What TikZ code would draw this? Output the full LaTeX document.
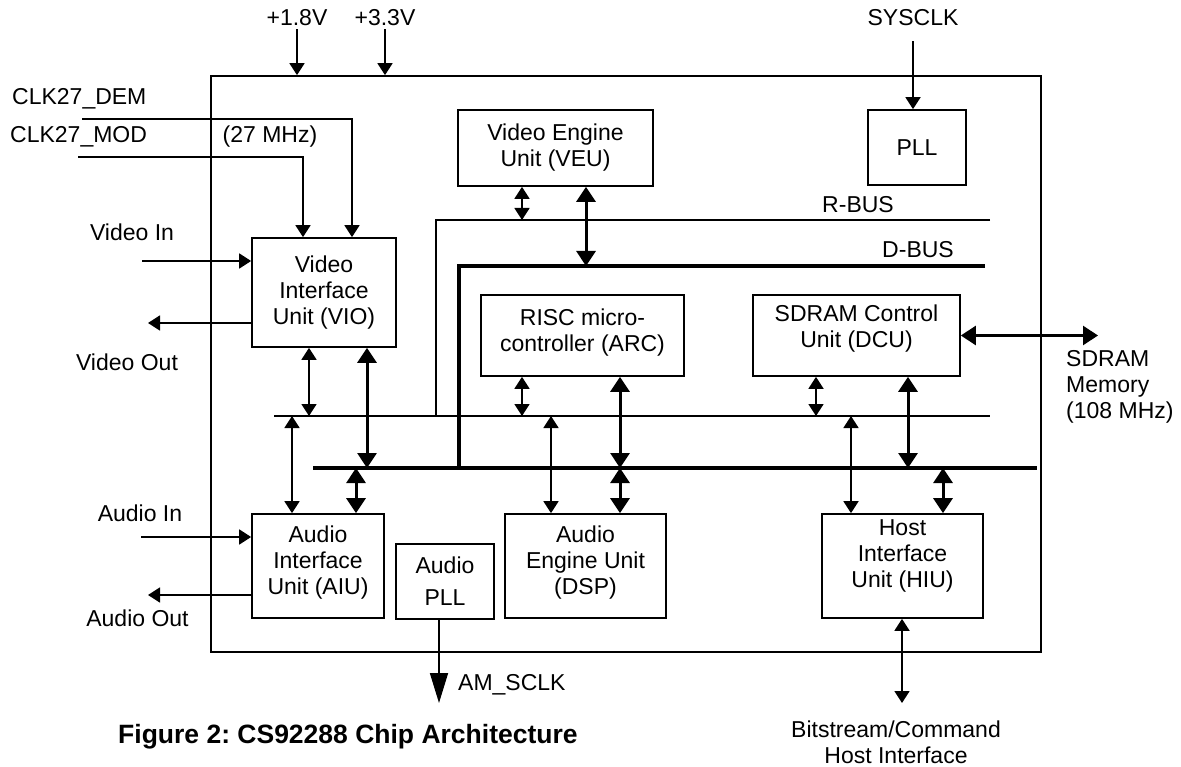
\documentclass[tikz,border=0pt]{standalone}
\usepackage{fontspec}
\setmainfont{Liberation Sans}
\usepackage{tikz}
\usetikzlibrary{arrows.meta,calc}
\frenchspacing
\newcommand{\dgfont}{\fontsize{23pt}{26pt}\selectfont}
\newcommand{\titlefont}{\fontsize{26.5pt}{30pt}\selectfont\bfseries}

\begin{document}
\begin{tikzpicture}[x=1pt,y=-1pt,
    box/.style={draw,line width=1.7pt,inner sep=0pt,align=center,font=\dgfont},
    lbl/.style={inner sep=0pt,font=\dgfont},
    ln/.style={line width=1.7pt},
    bus/.style={line width=3.4pt},
    arr/.style={ln,-{Triangle[length=12pt,width=15pt]}},
    darr/.style={ln,{Triangle[length=12pt,width=15pt]}-{Triangle[length=12pt,width=15pt]}},
    dthk/.style={line width=3pt,{Triangle[length=15pt,width=19pt]}-{Triangle[length=15pt,width=19pt]}},
    sclkarr/.style={ln,-{Triangle[length=30pt,width=18pt]}}]
    \useasboundingbox (0,0) rectangle (1181,767);
    \node[box,minimum width=830pt,minimum height=576pt] (chip) at (626,364) {};
    \node[box,minimum width=144pt,minimum height=109pt] (vio) at (324,292.5) {Video\\Interface\\Unit (VIO)};
    \node[box,minimum width=195pt,minimum height=76pt] (veu) at (555.5,148) {Video Engine\\Unit (VEU)};
    \node[box,minimum width=98pt,minimum height=75pt] (pll) at (917,147.5) {PLL};
    \node[box,minimum width=203pt,minimum height=81pt,text depth=11pt] (risc) at (582.5,335.5) {RISC micro-\\controller (ARC)};
    \node[box,minimum width=207pt,minimum height=81pt,text depth=19pt] (dcu) at (856.5,335.5) {SDRAM Control\\Unit (DCU)};
    \node[box,minimum width=132pt,minimum height=104pt,text depth=11pt] (aiu) at (318,566) {Audio\\Interface\\Unit (AIU)};
    \node[box,minimum width=98pt,minimum height=75pt] (apll) at (445,581.5) {Audio\\[6pt]PLL};
    \node[box,minimum width=161pt,minimum height=104pt,text depth=11pt] (dsp) at (585.5,566) {Audio\\Engine Unit\\(DSP)};
    \node[box,minimum width=161pt,minimum height=104pt,text depth=25pt] (hiu) at (902.5,566) {Host\\Interface\\Unit (HIU)};

    % supplies and clocks
    \node[lbl] (p18) at (297,18) {+1.8V};
    \node[lbl] (p33) at (385,18) {+3.3V};
    \node[lbl] (sysclk) at (913,18) {SYSCLK};
    \draw[arr] ([yshift=-3pt]p18.south) -- (p18.south |- chip.north);
    \draw[arr] ([yshift=-3pt]p33.south) -- (p33.south |- chip.north);
    \draw[arr] ([yshift=-15pt]sysclk.south) -- (sysclk.south |- pll.north);
    \node[lbl,anchor=west] (demlbl) at (12,99) {CLK27\_DEM};
    \node[lbl,anchor=west] (modlbl) at (10,137) {CLK27\_MOD};
    \node[lbl] (mhz) at (270,137) {(27 MHz)};
    \coordinate (dem) at (82,119);
    \coordinate (mod) at (78,157);
    \draw[arr] (dem) -| ([xshift=28pt]vio.north);
    \draw[arr] (mod) -| ([xshift=-21pt]vio.north);

    % video / audio ports
    \coordinate (vin) at (142,261);
    \coordinate (vout) at (148,323);
    \coordinate (ain) at (141,537);
    \coordinate (aout) at (148,595);
    \draw[arr] (vin) -- (vin -| vio.west);
    \draw[arr] (vout -| vio.west) -- (vout);
    \draw[arr] (ain) -- (ain -| aiu.west);
    \draw[arr] (aout -| aiu.west) -- (aout);
    \node[lbl] (vinlbl) at (132,232) {Video In};
    \node[lbl] (voutlbl) at (127,362) {Video Out};
    \node[lbl] (ainlbl) at (140,513) {Audio In};
    \node[lbl] (aoutlbl) at (137.5,618) {Audio Out};

    % buses
    \coordinate (rbtop) at (436,220);
    \coordinate (rbend) at (990,220);
    \coordinate (rblow) at (274,416);
    \coordinate (rblowend) at (990,416);
    \coordinate (dbtop) at (459,266);
    \coordinate (dbend) at (985,266);
    \coordinate (dblow) at (313,468);
    \coordinate (dblowend) at (1037,468);
    \draw[ln] (rbend) -- (rbtop) -- (rbtop |- rblow);
    \draw[ln] (rblow) -- (rblowend);
    \draw[bus] (dbend) -- (dbtop) -- (dbtop |- dblow);
    \draw[bus] (dblow) -- (dblowend);
    \node[lbl,anchor=base east] (rbuslbl) at (894,213) {R-BUS};
    \node[lbl,anchor=base east] (dbuslbl) at (954,258) {D-BUS};

    % bus taps
    \draw[darr] ([xshift=-33.5pt]veu.south) -- ([xshift=-33.5pt]veu.south |- rbtop);
    \draw[dthk] ([xshift=30.5pt]veu.south) -- ([xshift=30.5pt]veu.south |- dbtop);
    \draw[darr] ([xshift=-15pt]vio.south) -- ([xshift=-15pt]vio.south |- rblow);
    \draw[dthk] ([xshift=43pt]vio.south) -- ([xshift=43pt]vio.south |- dblow);
    \draw[darr] ([xshift=-60.5pt]risc.south) -- ([xshift=-60.5pt]risc.south |- rblow);
    \draw[dthk] ([xshift=37.5pt]risc.south) -- ([xshift=37.5pt]risc.south |- dblow);
    \draw[darr] ([xshift=-40.5pt]dcu.south) -- ([xshift=-40.5pt]dcu.south |- rblow);
    \draw[dthk] ([xshift=51.5pt]dcu.south) -- ([xshift=51.5pt]dcu.south |- dblow);
    \draw[darr] ([xshift=-26pt]aiu.north |- rblow) -- ([xshift=-26pt]aiu.north);
    \draw[dthk] ([xshift=38pt]aiu.north |- dblow) -- ([xshift=38pt]aiu.north);
    \draw[darr] ([xshift=-34.5pt]dsp.north |- rblow) -- ([xshift=-34.5pt]dsp.north);
    \draw[dthk] ([xshift=34.5pt]dsp.north |- dblow) -- ([xshift=34.5pt]dsp.north);
    \draw[darr] ([xshift=-51.5pt]hiu.north |- rblow) -- ([xshift=-51.5pt]hiu.north);
    \draw[dthk] ([xshift=40.5pt]hiu.north |- dblow) -- ([xshift=40.5pt]hiu.north);

    % external links
    \coordinate (memend) at (1098,335.5);
    \draw[dthk,line width=2.7pt] (dcu.east) -- (memend);
    \node[lbl,align=left,anchor=west] (memlbl) at (1066,387) {SDRAM\\Memory\\(108 MHz)};
    \coordinate (hostend) at (902,703);
    \draw[darr] (hiu.south -| hostend) -- (hostend);
    \node[lbl,align=center] (hostlbl) at (896,742) {Bitstream/Command\\Host Interface};
    \coordinate (sclkend) at (439,703);
    \draw[sclkarr] (apll.south -| sclkend) -- (sclkend);
    \node[lbl,anchor=west] (sclklbl) at (458,685) {AM\_SCLK};

    \node[inner sep=0pt,font=\titlefont,anchor=west] (title) at (118,737) {Figure 2: CS92288 Chip Architecture};
\end{tikzpicture}
\end{document}
